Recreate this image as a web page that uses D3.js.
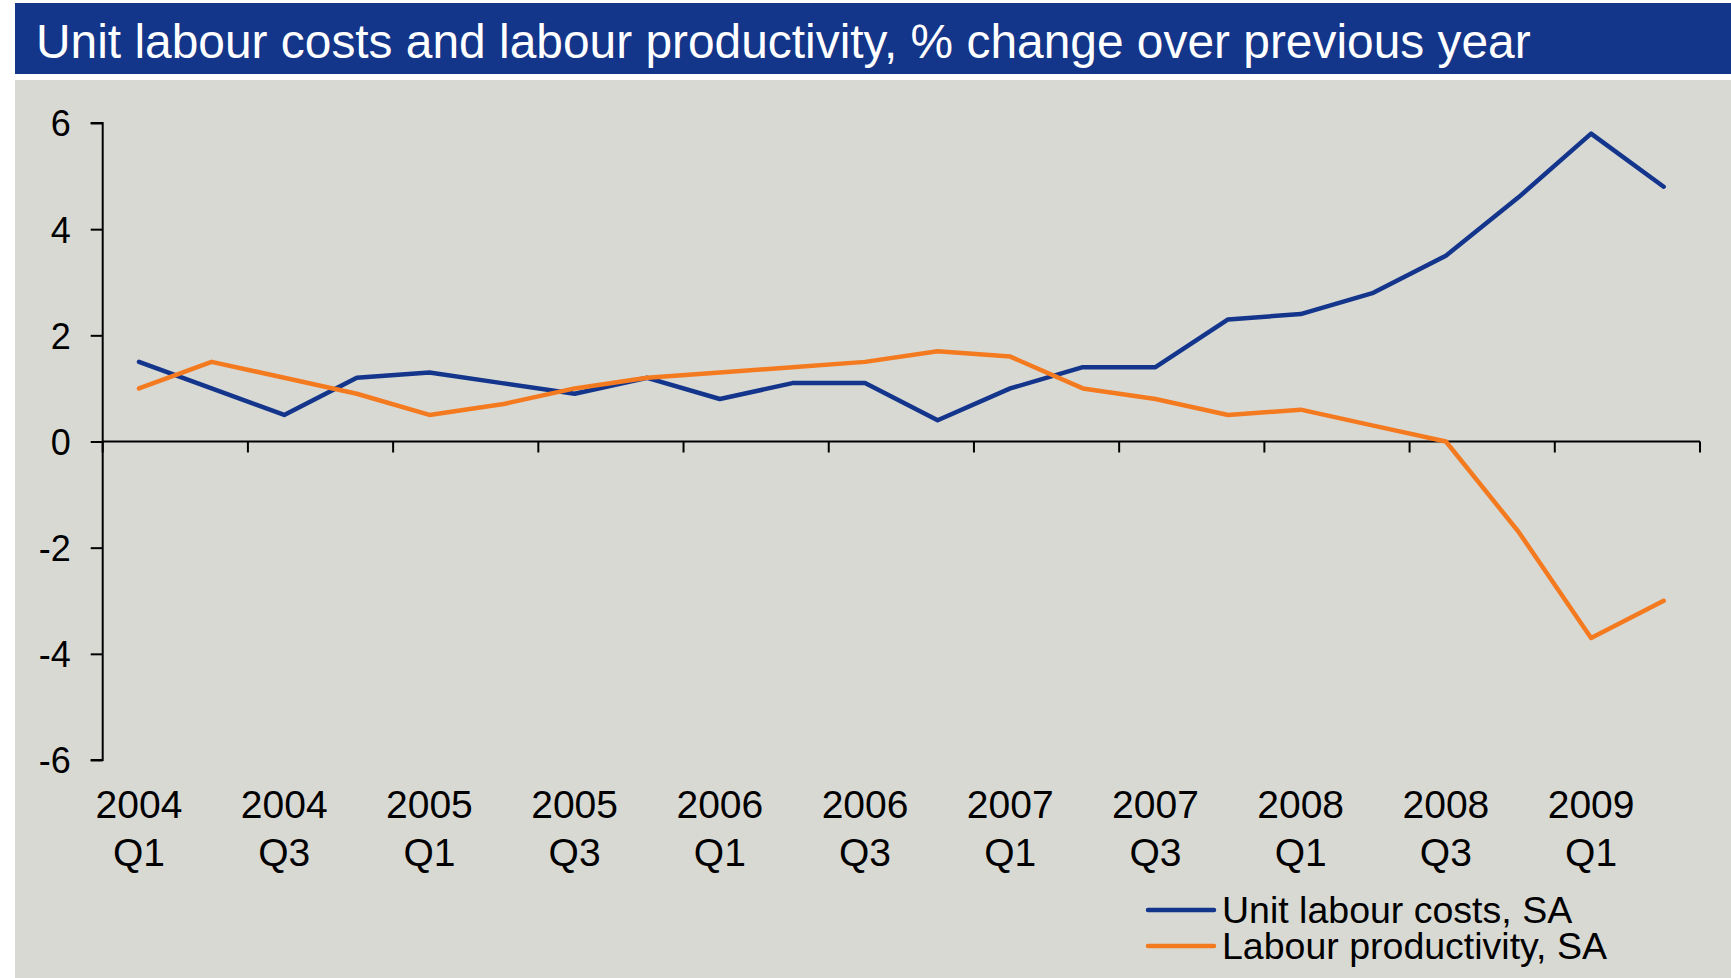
<!DOCTYPE html>
<html lang="en">
<head>
  <meta charset="UTF-8">
  <title>Unit labour costs and labour productivity</title>
  <script src="https://cdn.jsdelivr.net/npm/d3@7"></script>
</head>

<style>
body { margin: 0; background: white; }
svg { display: block; font-family: "Liberation Sans", Arial, sans-serif; }
.axis path, .axis line { stroke: black; stroke-width: 2; }
.axis text { fill: black; }
</style>

<body>
  <svg width="1731" height="978"></svg>

  <script>

    // quarters 2004 Q1 .. 2009 Q2
    var quarters = [
      "2004 Q1", "2004 Q2", "2004 Q3", "2004 Q4",
      "2005 Q1", "2005 Q2", "2005 Q3", "2005 Q4",
      "2006 Q1", "2006 Q2", "2006 Q3", "2006 Q4",
      "2007 Q1", "2007 Q2", "2007 Q3", "2007 Q4",
      "2008 Q1", "2008 Q2", "2008 Q3", "2008 Q4",
      "2009 Q1", "2009 Q2"
    ]

    var unitLabourCosts = [
      1.5, 1.0, 0.5, 1.2, 1.3, 1.1, 0.9, 1.2, 0.8, 1.1, 1.1,
      0.4, 1.0, 1.4, 1.4, 2.3, 2.4, 2.8, 3.5, 4.6, 5.8, 4.8
    ]

    var labourProductivity = [
      1.0, 1.5, 1.2, 0.9, 0.5, 0.7, 1.0, 1.2, 1.3, 1.4, 1.5,
      1.7, 1.6, 1.0, 0.8, 0.5, 0.6, 0.3, 0.0, -1.7, -3.7, -3.0
    ]

    var yTicks = [-6, -4, -2, 0, 2, 4, 6]

    var seriesNames = ["Unit labour costs, SA", "Labour productivity, SA"]
    var seriesColors = ["#13358b", "#f47a20"]

    var titleText = "Unit labour costs and labour productivity, % change over previous year"

    var svg = d3.select("svg")
    var W = 1731, H = 978

    // title bar and plot background
    svg.append("rect").attr("x", 15).attr("y", 3).attr("width", W - 15).attr("height", 71)
      .attr("fill", "#13358a")
    svg.append("rect").attr("x", 15).attr("y", 80).attr("width", W - 15).attr("height", H - 80)
      .attr("fill", "#d9d9d4")

    var title = svg.append("text")
      .attr("x", 36).attr("y", 58)
      .attr("fill", "white")
      .style("font-size", "50px")
      .text(titleText)
    // fit the title to the width it has in the picture
    var tw = title.node().getComputedTextLength()
    title.style("font-size", (50 * 1495 / tw) + "px")

    var x = d3.scaleBand()
      .domain(quarters)
      .range([102.7, 1700])
      .padding(0)

    var y = d3.scaleLinear()
      .domain([-6, 6])
      .range([760, 123])

    var cx = d => x(d) + x.bandwidth() / 2

    // y axis
    svg.append("g")
      .attr("class", "axis")
      .attr("transform", "translate(102.7,0)")
      .call(d3.axisLeft(y).tickValues(yTicks).tickSize(12).tickPadding(20).tickFormat(d => String(d)))
      .call(g => g.select(".domain").attr("d", "M-12," + y(6) + "H0V" + y(-6) + "H-12"))
      .selectAll("text")
      .style("font-size", "36px")
      .attr("dy", "0.36em")

    // x axis along zero, ticks every two quarters
    var xAxis = svg.append("g").attr("class", "axis")
    xAxis.append("line")
      .attr("x1", x.range()[0]).attr("x2", x.range()[1])
      .attr("y1", y(0)).attr("y2", y(0))
    var tickPos = quarters.filter((q, i) => i % 2 == 0).map(q => x(q)).concat([x.range()[1]])
    xAxis.selectAll(".xt")
      .data(tickPos)
      .enter()
      .append("line")
      .attr("x1", d => d).attr("x2", d => d)
      .attr("y1", y(0)).attr("y2", y(0) + 11)

    var labelled = quarters.filter((q, i) => i % 2 == 0)
    var lab = svg.selectAll(".xl")
      .data(labelled)
      .enter()
      .append("text")
      .attr("text-anchor", "middle")
      .attr("fill", "black")
      .style("font-size", "39px")
    lab.append("tspan").attr("x", d => cx(d)).attr("y", 818).text(d => d.split(" ")[0])
    lab.append("tspan").attr("x", d => cx(d)).attr("y", 866).text(d => d.split(" ")[1])

    // lines
    var line = d3.line()
      .x((d, i) => cx(quarters[i]))
      .y(d => y(d))

    ;[unitLabourCosts, labourProductivity].forEach((s, k) => {
      svg.append("path")
        .datum(s)
        .attr("d", line)
        .attr("fill", "none")
        .attr("stroke", seriesColors[k])
        .attr("stroke-width", 4.5)
        .attr("stroke-linejoin", "round")
        .attr("stroke-linecap", "round")
    })

    // legend
    var leg = svg.selectAll(".leg")
      .data(seriesNames)
      .enter()
      .append("g")
      .attr("transform", (d, i) => "translate(1148," + (910 + i * 36) + ")")
    leg.append("line")
      .attr("x1", 0).attr("x2", 66)
      .attr("stroke", (d, i) => seriesColors[i])
      .attr("stroke-width", 4.5)
      .attr("stroke-linecap", "round")
    leg.append("text")
      .attr("x", 74).attr("y", 13)
      .attr("fill", "black")
      .style("font-size", "37.5px")
      .text(d => d)

  </script>

</body>
</html>
